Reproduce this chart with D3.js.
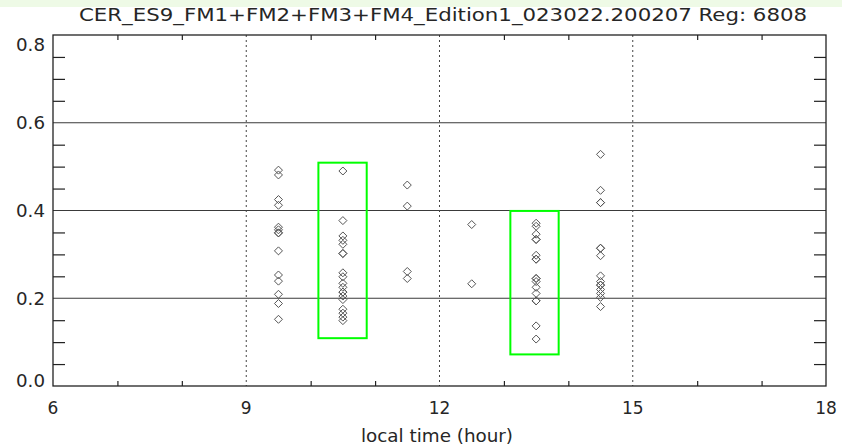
<!DOCTYPE html>
<html>
<head>
<meta charset="utf-8">
<script src="https://cdn.jsdelivr.net/npm/d3@7"></script>
<style>
  html, body { margin: 0; padding: 0; background: #ffffff; }
  svg { display: block; }
  text { font-family: "DejaVu Sans Condensed", "Liberation Sans Narrow", "DejaVu Sans", sans-serif; fill: #262626; }
  text.tick-label { font-family: "DejaVu Sans", sans-serif; }
</style>
</head>
<body>
<script>
// Chart text
const titleText = "CER_ES9_FM1+FM2+FM3+FM4_Edition1_023022.200207  Reg: 6808";
const xTitle = "local time (hour)";

// Axis ticks
const xLabelTicks = [6, 9, 12, 15, 18];
const xMinorTicks = [7, 8, 10, 11, 13, 14, 16, 17];
const xDottedLines = [9, 12, 15];
const yLabelTicks = [0.0, 0.2, 0.4, 0.6, 0.8];
const yMinorTicks = [0.05, 0.1, 0.15, 0.25, 0.3, 0.35, 0.45, 0.5, 0.55, 0.65, 0.7, 0.75];
const yGridLines = [0.2, 0.4, 0.6];

// Local-time bins (hour) and the observed values in each bin
const hours = [9.5, 10.5, 11.5, 12.5, 13.5, 14.5];
const values0930 = [0.492, 0.481, 0.425, 0.412, 0.362, 0.356, 0.349, 0.349, 0.308, 0.253, 0.239, 0.209, 0.188, 0.152];
const values1030 = [0.490, 0.377, 0.342, 0.332, 0.323, 0.302, 0.302, 0.258, 0.249, 0.234, 0.225, 0.214, 0.214, 0.205, 0.197, 0.175, 0.166, 0.157, 0.149];
const values1130 = [0.458, 0.410, 0.261, 0.245];
const values1230 = [0.368, 0.233];
const values1330 = [0.371, 0.364, 0.346, 0.334, 0.334, 0.298, 0.289, 0.289, 0.245, 0.245, 0.238, 0.225, 0.211, 0.194, 0.194, 0.137, 0.107];
const values1430 = [0.528, 0.446, 0.418, 0.418, 0.314, 0.314, 0.297, 0.251, 0.238, 0.230, 0.230, 0.220, 0.211, 0.202, 0.181];
const binValues = [values0930, values1030, values1130, values1230, values1330, values1430];

// Highlighted ranges: [hour start, hour end, value low, value high]
const boxHourStart = [10.12, 13.10];
const boxHourEnd   = [10.87, 13.85];
const boxLow       = [0.109, 0.072];
const boxHigh      = [0.509, 0.399];

const W = 842, H = 448;
const svg = d3.select("body").append("svg").attr("width", W).attr("height", H);

// light strip along the top edge
svg.append("rect").attr("x", 0).attr("y", 0).attr("width", W).attr("height", 7).attr("fill", "#eefae6");

const x = d3.scaleLinear().domain([6, 18]).range([53, 826]);
const y = d3.scaleLinear().domain([0, 0.8]).range([386, 35]);

const points = [];
hours.forEach((h, i) => binValues[i].forEach(v => points.push({ h, v })));

// horizontal grid lines
svg.append("g").selectAll("line").data(yGridLines).join("line")
  .attr("x1", x(6)).attr("x2", x(18))
  .attr("y1", d => y(d)).attr("y2", d => y(d))
  .attr("stroke", "#3a3a3a").attr("stroke-width", 1.2);

// dotted vertical lines
svg.append("g").selectAll("line").data(xDottedLines).join("line")
  .attr("x1", d => x(d)).attr("x2", d => x(d))
  .attr("y1", y(0.8)).attr("y2", y(0))
  .attr("stroke", "#444").attr("stroke-width", 1)
  .attr("stroke-dasharray", "2,3");

// minor ticks on all four sides (inward)
const tickStyle = g => {
  g.select(".domain").remove();
  g.selectAll(".tick line").attr("stroke", "#222").attr("stroke-width", 1.2);
  g.selectAll(".tick text").remove();
};
svg.append("g").attr("transform", `translate(0,${y(0)})`)
  .call(d3.axisBottom(x).tickValues(xMinorTicks).tickSize(-5)).call(tickStyle);
svg.append("g").attr("transform", `translate(0,${y(0.8)})`)
  .call(d3.axisTop(x).tickValues(xMinorTicks).tickSize(-5)).call(tickStyle);
svg.append("g").attr("transform", `translate(${x(6)},0)`)
  .call(d3.axisLeft(y).tickValues(yMinorTicks).tickSize(-12)).call(tickStyle);
svg.append("g").attr("transform", `translate(${x(18)},0)`)
  .call(d3.axisRight(y).tickValues(yMinorTicks).tickSize(-12)).call(tickStyle);

// frame
svg.append("rect")
  .attr("x", x(6)).attr("y", y(0.8))
  .attr("width", x(18) - x(6)).attr("height", y(0) - y(0.8))
  .attr("fill", "none").attr("stroke", "#222").attr("stroke-width", 1.3);

// tick labels
svg.append("g").selectAll("text").data(xLabelTicks).join("text")
  .attr("class", "tick-label")
  .attr("x", d => x(d)).attr("y", 414)
  .attr("text-anchor", "middle").attr("font-size", 17)
  .text(d => d);

svg.append("g").selectAll("text").data(yLabelTicks).join("text")
  .attr("class", "tick-label")
  .attr("x", 45)
  .attr("y", d => Math.min(Math.max(y(d) + 6.5, 51), 387))
  .attr("text-anchor", "end").attr("font-size", 17)
  .attr("textLength", 29).attr("lengthAdjust", "spacingAndGlyphs")
  .text(d => d3.format(".1f")(d));

// titles
svg.append("text").attr("x", 443).attr("y", 21)
  .attr("text-anchor", "middle").attr("font-size", 17)
  .attr("textLength", 728).attr("lengthAdjust", "spacingAndGlyphs")
  .text(titleText);

svg.append("text").attr("x", 437).attr("y", 442)
  .attr("text-anchor", "middle").attr("font-size", 17)
  .attr("textLength", 152).attr("lengthAdjust", "spacingAndGlyphs")
  .text(xTitle);

// highlighted ranges
svg.append("g").selectAll("rect").data(d3.range(boxHourStart.length)).join("rect")
  .attr("x", i => x(boxHourStart[i]))
  .attr("y", i => y(boxHigh[i]))
  .attr("width", i => x(boxHourEnd[i]) - x(boxHourStart[i]))
  .attr("height", i => y(boxLow[i]) - y(boxHigh[i]))
  .attr("fill", "none").attr("stroke", "#00ff00").attr("stroke-width", 2);

// diamond markers
const r = 4;
svg.append("g").selectAll("path").data(points).join("path")
  .attr("d", d => {
    const cx = x(d.h), cy = y(d.v);
    return `M${cx},${cy - r}L${cx + r},${cy}L${cx},${cy + r}L${cx - r},${cy}Z`;
  })
  .attr("fill", "none").attr("stroke", "#555").attr("stroke-width", 1);
</script>
</body>
</html>
